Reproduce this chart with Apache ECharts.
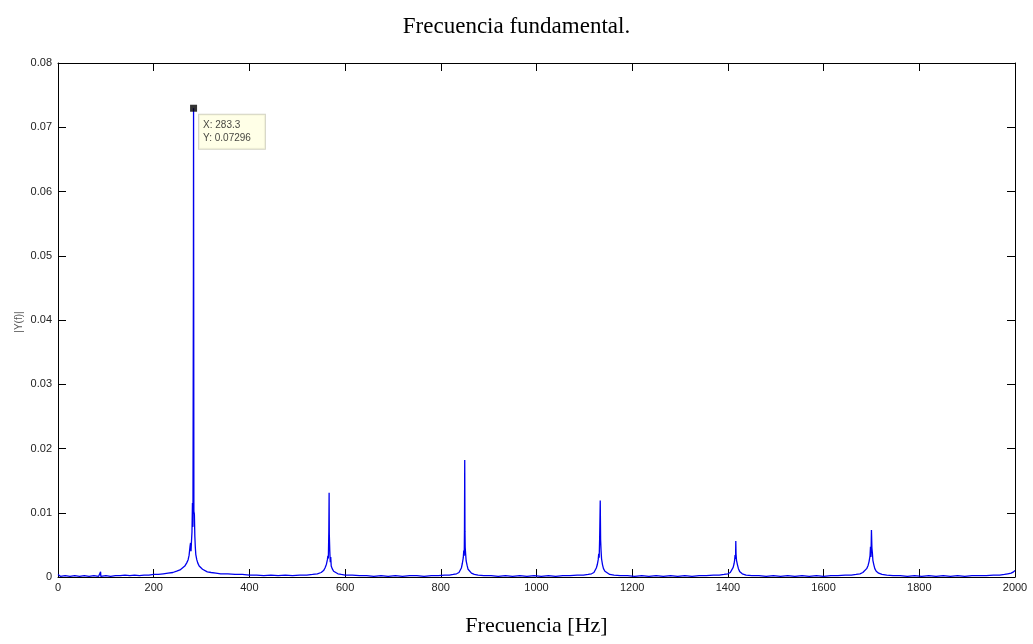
<!DOCTYPE html>
<html>
<head>
<meta charset="utf-8">
<script src="https://cdn.jsdelivr.net/npm/echarts@6/dist/echarts.min.js"></script>
<style>
  html, body { margin: 0; padding: 0; background: #ffffff; }
  #chart { width: 1033px; height: 644px; }
</style>
</head>
<body>
<div id="chart"></div>
<script>
// Magnitude spectrum |Y(f)| of the recorded signal (frequency in Hz)
const freqs = [
  0, 5, 15, 25, 35, 45, 55, 65, 75, 85, 88.5, 89, 89.5, 100, 110, 120, 130, 140, 150, 160,
  170, 180, 190, 200, 210, 220, 230, 240, 248, 255, 260, 265, 269, 272, 274, 276, 277, 278, 279, 280,
  281, 282, 283, 283.3, 284, 285, 286, 287, 288, 290, 292, 295, 298, 302, 306, 312, 320, 330, 340, 355,
  370, 385, 400, 415, 430, 445, 460, 475, 490, 505, 520, 532, 542, 550, 555, 558, 561, 563, 564, 565,
  566, 566.6, 567, 568, 569, 570, 571, 573, 576, 580, 585, 592, 600, 615, 630, 645, 660, 675, 690, 705,
  720, 735, 750, 765, 780, 795, 808, 818, 826, 833, 838, 841, 843, 845, 847, 848, 849, 849.5, 850, 850.5,
  851, 852, 853, 855, 857, 860, 864, 870, 878, 890, 905, 920, 935, 950, 965, 980, 995, 1010, 1025, 1040,
  1055, 1070, 1085, 1098, 1108, 1115, 1120, 1123, 1125, 1127, 1129, 1130, 1131, 1132, 1133.2, 1134, 1135, 1136, 1138, 1140,
  1143, 1147, 1153, 1162, 1175, 1190, 1205, 1220, 1235, 1250, 1265, 1280, 1295, 1310, 1325, 1340, 1355, 1370, 1382, 1392,
  1400, 1405, 1408, 1411, 1413, 1414, 1415, 1416, 1416.5, 1417, 1418, 1420, 1422, 1425, 1430, 1438, 1450, 1465, 1480, 1495,
  1510, 1525, 1540, 1555, 1570, 1585, 1600, 1615, 1630, 1645, 1658, 1668, 1676, 1682, 1686, 1690, 1693, 1695, 1697, 1698,
  1699, 1700, 1701, 1702, 1703, 1705, 1707, 1710, 1715, 1722, 1732, 1745, 1760, 1775, 1790, 1805, 1820, 1835, 1850, 1865,
  1880, 1895, 1910, 1925, 1940, 1955, 1968, 1978, 1985, 1989, 1992, 1995, 1997, 2000
];
const mags = [
  0.0004, 0.0001, 0.0002, 0.0001, 0.0002, 0.0001, 0.0002, 0.0001, 0.0002, 0.0001, 0.0001, 0.0008, 0.0001, 0.0002, 0.0001, 0.0002, 0.0002, 0.0003, 0.0002, 0.0003,
  0.0002, 0.0003, 0.0003, 0.0004, 0.0004, 0.0005, 0.0006, 0.0007, 0.0009, 0.0011, 0.0014, 0.0017, 0.0022, 0.0027, 0.0034, 0.0048, 0.0053, 0.0040, 0.0056, 0.0070,
  0.0115, 0.0078, 0.0481, 0.07296, 0.0102, 0.0098, 0.0063, 0.0046, 0.0035, 0.0027, 0.0022, 0.0017, 0.0014, 0.0012, 0.0010, 0.0008, 0.0007, 0.0006, 0.0005, 0.0005,
  0.0004, 0.0004, 0.0003, 0.0003, 0.0002, 0.0003, 0.0002, 0.0003, 0.0002, 0.0003, 0.0003, 0.0004, 0.0005, 0.0007, 0.0010, 0.0014, 0.0020, 0.0027, 0.0033, 0.0029,
  0.0072, 0.0131, 0.0066, 0.0041, 0.0023, 0.0031, 0.0017, 0.0013, 0.0009, 0.0007, 0.0005, 0.0004, 0.0003, 0.0003, 0.0002, 0.0002, 0.0001, 0.0002, 0.0001, 0.0002,
  0.0001, 0.0002, 0.0002, 0.0001, 0.0002, 0.0002, 0.0003, 0.0003, 0.0004, 0.0005, 0.0007, 0.0010, 0.0014, 0.0021, 0.0030, 0.0041, 0.0033, 0.0076, 0.0182, 0.0071,
  0.0046, 0.0035, 0.0025, 0.0018, 0.0012, 0.0009, 0.0006, 0.0004, 0.0003, 0.0002, 0.0002, 0.0001, 0.0002, 0.0001, 0.0002, 0.0001, 0.0002, 0.0001, 0.0002, 0.0001,
  0.0002, 0.0002, 0.0003, 0.0003, 0.0004, 0.0005, 0.0007, 0.0010, 0.0014, 0.0019, 0.0027, 0.0036, 0.0030, 0.0061, 0.0119, 0.0058, 0.0040, 0.0028, 0.0019, 0.0013,
  0.0009, 0.0006, 0.0004, 0.0003, 0.0002, 0.0002, 0.0001, 0.0002, 0.0001, 0.0002, 0.0001, 0.0002, 0.0001, 0.0002, 0.0001, 0.0002, 0.0002, 0.0003, 0.0003, 0.0004,
  0.0005, 0.0007, 0.0010, 0.0015, 0.0021, 0.0026, 0.0034, 0.0028, 0.0056, 0.0036, 0.0026, 0.0019, 0.0013, 0.0008, 0.0005, 0.0003, 0.0002, 0.0002, 0.0001, 0.0002,
  0.0001, 0.0002, 0.0001, 0.0002, 0.0001, 0.0002, 0.0001, 0.0002, 0.0002, 0.0003, 0.0003, 0.0004, 0.0005, 0.0007, 0.0009, 0.0013, 0.0018, 0.0024, 0.0033, 0.0047,
  0.0031, 0.0073, 0.0045, 0.0037, 0.0026, 0.0019, 0.0013, 0.0009, 0.0006, 0.0004, 0.0003, 0.0002, 0.0002, 0.0001, 0.0002, 0.0001, 0.0002, 0.0001, 0.0002, 0.0001,
  0.0002, 0.0001, 0.0002, 0.0002, 0.0002, 0.0003, 0.0003, 0.0004, 0.0005, 0.0007, 0.0006, 0.0009, 0.0008, 0.0010
];

// Data cursor on the fundamental
const tipFreq = 283.3;
const tipMag = 0.07296;

const chart = echarts.init(document.getElementById('chart'), null, { renderer: 'canvas' });

const spectrum = freqs.map((f, i) => [f, mags[i]]);
const labelFont = 'Liberation Sans, Arial, sans-serif';
const serifFont = 'Liberation Serif, Times New Roman, serif';

const tickStyle = { inside: true, length: 8, lineStyle: { color: '#000', width: 1 } };
const lineStyle = { show: true, onZero: false, lineStyle: { color: '#000', width: 1 } };

chart.setOption({
  animation: false,
  backgroundColor: '#ffffff',
  title: {
    text: 'Frecuencia fundamental.',
    left: 'center',
    top: 10,
    textStyle: { fontFamily: serifFont, fontSize: 23, fontWeight: 'normal', color: '#000' }
  },
  // y-axis caption, placed beside the tick labels
  graphic: [
    {
      type: 'text',
      left: 14,
      top: 'middle',
      rotation: Math.PI / 2,
      style: { text: '|Y(f)|', font: '10px Liberation Sans, Arial, sans-serif', fill: '#555' }
    }
  ],
  grid: { left: 58, right: 18, top: 63, bottom: 67 },
  xAxis: [
    {
      type: 'value', min: 0, max: 2000, interval: 200, position: 'bottom',
      name: 'Frecuencia [Hz]', nameLocation: 'middle', nameGap: 38,
      nameTextStyle: { fontFamily: serifFont, fontSize: 22, color: '#000' },
      axisLine: lineStyle, axisTick: tickStyle, splitLine: { show: false },
      axisLabel: { fontFamily: labelFont, fontSize: 11, color: '#222', margin: 5, formatter: v => String(v) }
    },
    {
      type: 'value', min: 0, max: 2000, interval: 200, position: 'top',
      axisLine: lineStyle, axisTick: tickStyle, splitLine: { show: false },
      axisLabel: { show: false }
    }
  ],
  yAxis: [
    {
      type: 'value', min: 0, max: 0.08, interval: 0.01, position: 'left',
      axisLine: lineStyle, axisTick: tickStyle, splitLine: { show: false },
      axisLabel: {
        fontFamily: labelFont, fontSize: 11, color: '#222', margin: 6,
        formatter: v => (v === 0 ? '0' : v.toFixed(2))
      }
    },
    {
      type: 'value', min: 0, max: 0.08, interval: 0.01, position: 'right',
      axisLine: lineStyle, axisTick: tickStyle, splitLine: { show: false },
      axisLabel: { show: false }
    }
  ],
  series: [
    {
      type: 'line',
      data: spectrum,
      showSymbol: false,
      sampling: false,
      lineStyle: { color: '#0000ee', width: 1.3 },
      z: 3
    },
    {
      type: 'scatter',
      data: [[tipFreq, tipMag]],
      symbol: 'rect',
      symbolSize: 7,
      itemStyle: { color: '#000' },
      z: 5,
      label: {
        show: true,
        position: [9, 10],
        formatter: 'X: ' + tipFreq + '\nY: ' + tipMag,
        fontFamily: labelFont,
        fontSize: 10,
        lineHeight: 13,
        color: '#111',
        backgroundColor: '#ffffe1',
        borderColor: '#c8c8b4',
        borderWidth: 1,
        padding: [4, 14, 4, 4]
      }
    }
  ]
});
</script>
</body>
</html>
